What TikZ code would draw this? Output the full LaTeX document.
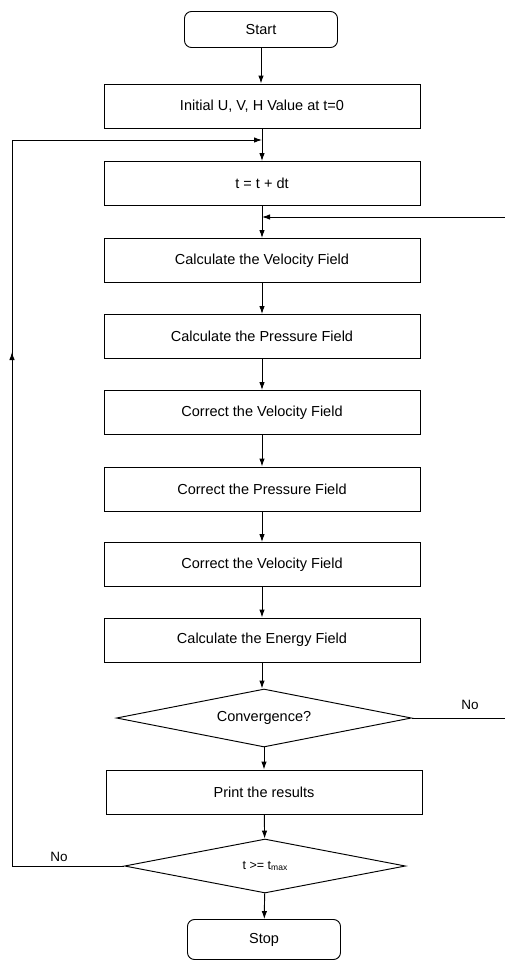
\documentclass[tikz,border=0pt]{standalone}
\usepackage{fontspec}
\setmainfont{Liberation Sans}
\usetikzlibrary{shapes.geometric,arrows.meta}
\begin{document}
\begin{tikzpicture}[x=1pt,y=-1pt,
  line width=0.95pt,
  every node/.style={font=\fontsize{14.5}{17}\selectfont},
  procbox/.style={draw, minimum width=316pt, minimum height=44pt, inner sep=0pt},
  termbox/.style={draw, rounded corners=7pt, minimum width=153pt, minimum height=36pt, inner sep=0pt},
  decbox/.style={draw, diamond, aspect=5, inner sep=0pt},
  flow/.style={-{Latex[length=8pt,width=5.5pt]}},
  lbl/.style={font=\fontsize{13.5}{16}\selectfont}
]
\useasboundingbox (0,0) rectangle (504,961);

% main column of the flow chart
\node[termbox] (start) at (261,29.5) {Start};
\node[procbox] (init) at (262,106) {Initial U, V, H Value at t=0};
\node[procbox] (tdt) at (262,183.5) {t = t + dt};
\node[procbox] (vel) at (262,260.5) {Calculate the Velocity Field};
\node[procbox] (pres) at (262,336.5) {Calculate the Pressure Field};
\node[procbox] (cvA) at (262,412.5) {Correct the Velocity Field};
\node[procbox] (cp) at (262,489) {Correct the Pressure Field};
\node[procbox] (cvB) at (262,564.5) {Correct the Velocity Field};
\node[procbox] (energy) at (262,640) {Calculate the Energy Field};
\node[decbox, minimum width=295pt, minimum height=58pt] (conv) at (264,718) {Convergence?};
\node[procbox] (print) at (264,792) {Print the results};
\node[decbox, minimum width=281pt, minimum height=54pt, font=\fontsize{12.5}{14}\selectfont] (tmax) at (265,866)
  {t >= t\raisebox{-0.5pt}{\fontsize{8.5}{9}\selectfont max}};
\node[termbox, minimum height=40pt] (stop) at (264,939.5) {Stop};

% junction points of the two loops
\coordinate (jt) at (init.south |- 0,140);
\coordinate (jv) at (tdt.south |- 0,217);
\coordinate (lc) at (12,140);
\coordinate (ld) at (12,866);
\coordinate (rc) at (506,217);
\coordinate (rd) at (506,718);
\coordinate (lup) at (12,352);

% straight connectors
\draw[flow] (start) -- (start.south |- init.north);
\draw[flow] (init) -- (tdt);
\draw[flow] (tdt) -- (vel);
\draw[flow] (vel) -- (pres);
\draw[flow] (pres) -- (cvA);
\draw[flow] (cvA) -- (cp);
\draw[flow] (cp) -- (cvB);
\draw[flow] (cvB) -- (energy);
\draw[flow] (energy.south) -- (energy.south |- conv.north);
\draw[flow] (conv.south -| print.north) -- (print.north);
\draw[flow] (print) -- (tmax);
\draw[flow] (tmax) -- (stop);

% inner loop: not converged
\draw[flow] (conv.east) -- (rd) -- (rc) -- (jv);
\node[lbl] (noA) at (470,705) {No};

% outer loop: next time step
\draw[flow] (tmax.west) -- (ld) -- (lc) -- (jt);
\draw[flow] (ld) -- (lup);
\node[lbl] (noB) at (59,857) {No};
\end{tikzpicture}
\end{document}
